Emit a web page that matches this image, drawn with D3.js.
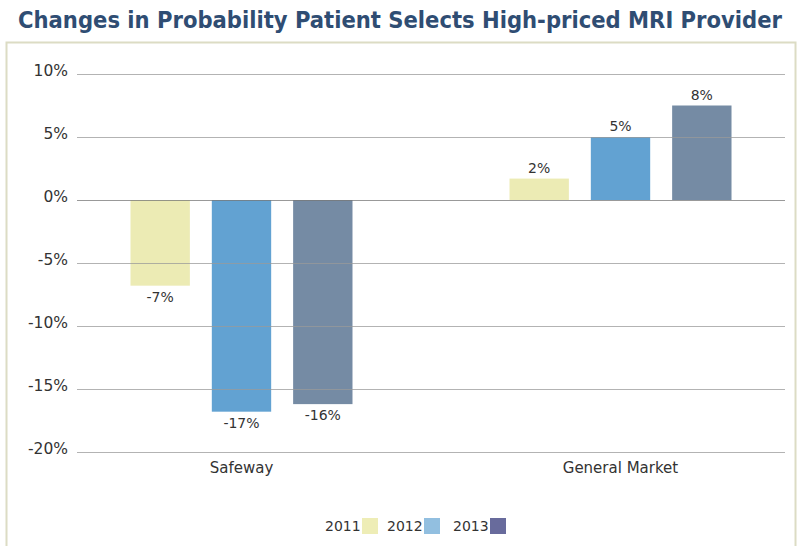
<!DOCTYPE html>
<html>
<head>
<meta charset="utf-8">
<script src="https://cdn.jsdelivr.net/npm/d3@7"></script>
<style>
  body { margin: 0; background: #fff; }
  text { font-family: "DejaVu Sans", Verdana, sans-serif; fill: #333; }
</style>
</head>
<body>
<script>
var width = 799, height = 546

// data
var categories = ["Safeway", "General Market"]
var years = ["2011", "2012", "2013"]
var values2011 = [-6.8, 1.7]
var values2012 = [-16.8, 5.0]
var values2013 = [-16.2, 7.5]
var yTicks = [10, 5, 0, -5, -10, -15, -20]

var barColors = ["#ecebb4", "#62a2d2", "#758ba4"]
var legendColors = ["#eeedb6", "#92bfe0", "#686b9c"]

var series = [values2011, values2012, values2013]

var svg = d3.select("body").append("svg")
    .attr("width", width)
    .attr("height", height)

// title
svg.append("text")
    .attr("x", 400)
    .attr("y", 28)
    .attr("text-anchor", "middle")
    .style("font-family", "'DejaVu Sans Condensed', 'DejaVu Sans', sans-serif")
    .style("font-weight", "bold")
    .style("font-size", "23.5px")
    .style("fill", "#2f4d73")
    .text("Changes in Probability Patient Selects High-priced MRI Provider")

// frame
svg.append("rect")
    .attr("x", 6.5)
    .attr("y", 42.5)
    .attr("width", 789)
    .attr("height", 520)
    .attr("fill", "none")
    .attr("stroke", "#dcdcc4")
    .attr("stroke-width", 2)

var y = d3.scaleLinear().domain([-20, 10]).range([452, 74])
var x0 = d3.scalePoint().domain(categories).range([77, 785]).padding(0.434)
var x1 = d3.scaleBand().domain(years).range([-111, 111]).paddingInner(0.27)

// bars
categories.forEach(function(c, ci) {
  svg.append("g")
      .attr("transform", "translate(" + x0(c) + ",0)")
    .selectAll("rect")
    .data(years)
    .enter().append("rect")
      .attr("x", function(d) { return x1(d) })
      .attr("width", x1.bandwidth())
      .attr("y", function(d, i) { return y(Math.max(0, series[i][ci])) })
      .attr("height", function(d, i) { return Math.abs(y(series[i][ci]) - y(0)) })
      .attr("fill", function(d, i) { return barColors[i] })

  svg.append("g")
      .attr("transform", "translate(" + x0(c) + ",0)")
    .selectAll("text")
    .data(years)
    .enter().append("text")
      .attr("x", function(d) { return x1(d) + x1.bandwidth() / 2 })
      .attr("y", function(d, i) {
        var v = series[i][ci]
        return v >= 0 ? y(v) - 6 : y(v) + 16
      })
      .attr("text-anchor", "middle")
      .style("font-size", "14px")
      .text(function(d, i) { return Math.round(series[i][ci]) + "%" })
})

// gridlines + tick labels (drawn over the bars like the original)
var yAxis = svg.append("g")
yAxis.selectAll("line")
    .data(yTicks)
    .enter().append("line")
    .attr("x1", 77)
    .attr("x2", 785)
    .attr("y1", function(d) { return Math.round(y(d)) + 0.5 })
    .attr("y2", function(d) { return Math.round(y(d)) + 0.5 })
    .attr("stroke", function(d) { return d == 0 ? "#777" : "#999" })
    .attr("stroke-opacity", 0.75)
    .attr("stroke-width", 1)

yAxis.selectAll("text")
    .data(yTicks)
    .enter().append("text")
    .attr("x", 68)
    .attr("y", function(d) { return y(d) + 1.5 })
    .attr("text-anchor", "end")
    .style("font-size", "15.5px")
    .text(function(d) { return d + "%" })

// category labels
svg.selectAll(".cat")
    .data(categories)
    .enter().append("text")
    .attr("class", "cat")
    .attr("x", function(d) { return x0(d) })
    .attr("y", 473)
    .attr("text-anchor", "middle")
    .style("font-size", "15px")
    .text(function(d) { return d })

// legend
var legendX = [325, 387, 453]
var legend = svg.selectAll(".legend")
    .data(years)
    .enter().append("g")
    .attr("class", "legend")
    .attr("transform", function(d, i) { return "translate(" + legendX[i] + ",518)" })

legend.append("text")
    .attr("x", 0)
    .attr("y", 13)
    .style("font-size", "14px")
    .text(function(d) { return d })

legend.append("rect")
    .attr("x", 37)
    .attr("y", 0)
    .attr("width", 16)
    .attr("height", 16)
    .attr("fill", function(d, i) { return legendColors[i] })
</script>
</body>
</html>
